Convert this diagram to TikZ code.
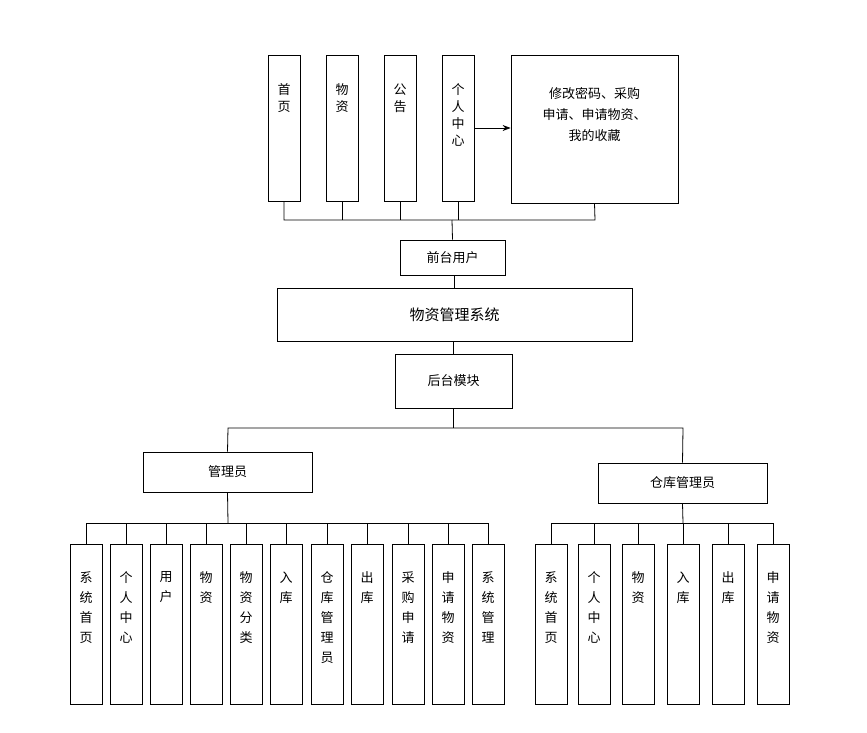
\documentclass[tikz,border=0pt]{standalone}
\usepackage{fontspec}
\setmainfont{Noto Sans CJK SC}
\usetikzlibrary{arrows.meta}
\begin{document}
\begin{tikzpicture}[x=1pt,y=-1pt,
  bx/.style={draw,thick,inner sep=0pt,font=\fontsize{13}{16}\selectfont,align=center},
  ln/.style={draw,thick}]
\useasboundingbox (0,0) rectangle (867,733);
\newcommand\vb[4]{\node[bx,minimum width=32pt,minimum height=#3pt,anchor=north,text depth=0pt] (#1) at (#2,#4) {};}
% top
\foreach \n/\x/\t in {a/284/{首\\页},b/342/{物\\资},c/400/{公\\告},d/458/{个\\人\\中\\心}}{
  \node[bx,minimum width=32pt,minimum height=146pt] (\n) at (\x,128) {};
  \node[font=\fontsize{13}{17}\selectfont,align=center,anchor=north] at (\x,80) {\t};}
\node[bx,minimum width=167pt,minimum height=148pt] (e) at (594.5,129) {};
\node[font=\fontsize{13}{21}\selectfont,align=center,anchor=north] at (594.5,84) {修改密码、采购\\申请、申请物资、\\我的收藏};
\draw[thick,-{Stealth[length=8pt]}] (d.east|-0,128) -- (e.west|-0,128);
\coordinate (bus1) at (452,220);
\draw[ln] (a.south) -- (284,220) -- (595,220) -- (e.south);
\foreach \n in {b,c,d} \draw[ln] (\n.south) -- (\n.south|-bus1);
\node[bx,minimum width=105pt,minimum height=35pt] (f) at (452.5,257.5) {前台用户};
\draw[ln] (bus1) -- (f.north);
\node[bx,minimum width=355pt,minimum height=53pt,font=\fontsize{15}{18}\selectfont] (g) at (454.5,314.5) {物资管理系统};
\draw[ln] (f.south) -- (g.north|-f.south) -- (g.north);
\node[bx,minimum width=117pt,minimum height=54pt] (h) at (453.5,381) {后台模块};
\draw[ln] (h.north|-g.south) -- (h.north);
\node[bx,minimum width=169pt,minimum height=40pt] (m) at (227.5,472) {管理员};
\node[bx,minimum width=169pt,minimum height=40pt] (w) at (682.5,483) {仓库管理员};
\draw[ln] (h.south) -- (453.5,428) coordinate (j);
\draw[ln] (m.north) -- (228,428) -- (683,428) -- (w.north);
% left leaves
\foreach \x/\t [count=\i] in {86/{系\\统\\首\\页},126/{个\\人\\中\\心},166/{用\\户},206/{物\\资},246/{物\\资\\分\\类},286/{入\\库},327/{仓\\库\\管\\理\\员},367/{出\\库},408/{采\\购\\申\\请},448/{申\\请\\物\\资},488/{系\\统\\管\\理}}{
  \node[bx,minimum width=32pt,minimum height=160pt] (L\i) at (\x,624) {};
  \node[font=\fontsize{13}{20}\selectfont,align=center,anchor=north] at (\x,568) {\t};
  \draw[ln] (L\i.north) -- (\x,523);}
\draw[ln] (86,523) -- (488,523);
\draw[ln] (m.south) -- (228,523);
\foreach \x/\t [count=\i] in {551/{系\\统\\首\\页},594/{个\\人\\中\\心},638/{物\\资},683/{入\\库},728/{出\\库},773/{申\\请\\物\\资}}{
  \node[bx,minimum width=32pt,minimum height=160pt] (R\i) at (\x,624) {};
  \node[font=\fontsize{13}{20}\selectfont,align=center,anchor=north] at (\x,568) {\t};
  \draw[ln] (R\i.north) -- (\x,523);}
\draw[ln] (551,523) -- (773,523);
\draw[ln] (w.south) -- (683,523);
\end{tikzpicture}
\end{document}
